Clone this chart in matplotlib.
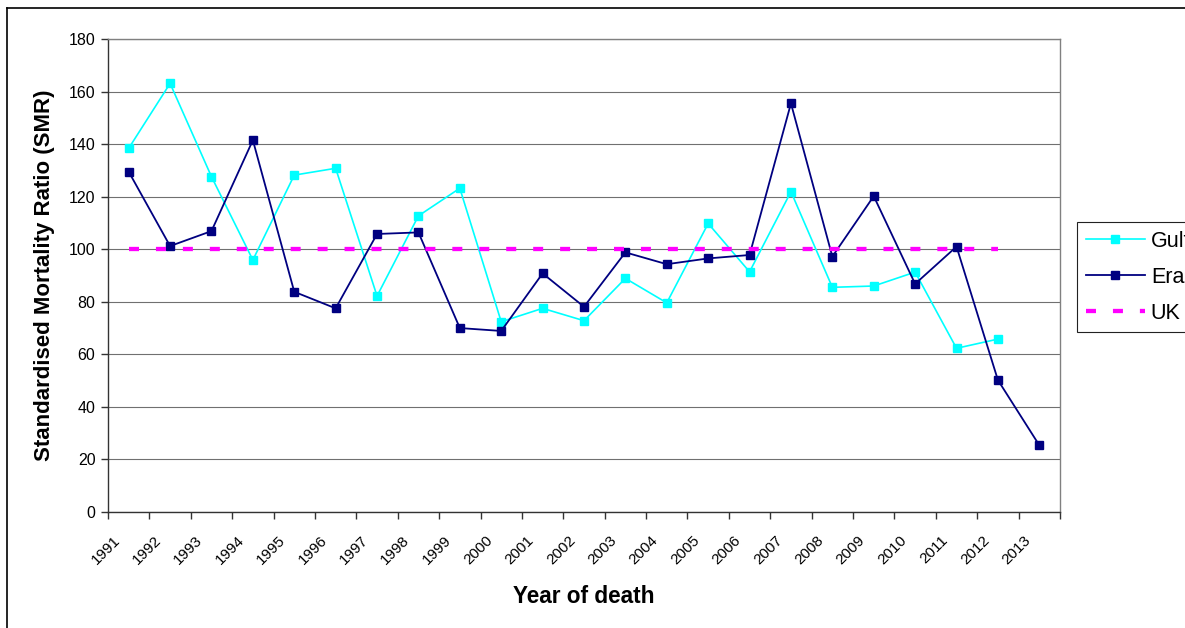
import matplotlib
matplotlib.use("Agg")
import matplotlib.pyplot as plt
import matplotlib.transforms as mtransforms
from matplotlib.lines import Line2D
import numpy as np

# data
years = [str(y) for y in range(1991, 2014)]
gulf = [138.4, 163.1, 127.6, 95.9, 128.2, 130.8, 82.2, 112.7, 123.2, 72.4,
        77.5, 72.8, 88.9, 79.6, 109.8, 91.4, 121.9, 85.5, 86.0, 91.3,
        62.3, 65.8, None]
era = [129.5, 101.2, 106.9, 141.5, 83.8, 77.5, 105.8, 106.4, 70.0, 68.9,
       90.8, 78.1, 98.8, 94.3, 96.5, 97.8, 155.5, 97.2, 120.2, 86.8,
       101.0, 50.2, 25.4]
uk = [100] * 22 + [None]
y_ticks = list(range(0, 181, 20))

plt.rcParams['font.family'] = ['Liberation Sans', 'DejaVu Sans']
plt.rcParams['lines.scale_dashes'] = False

W, H = 1185, 628
fig = plt.figure(figsize=(W / 100, H / 100), dpi=100)
ax = fig.add_axes([108 / W, 1 - 512 / H, (1060 - 108) / W, (512 - 39) / H])

x = np.arange(len(years)) + 0.5

def to_arr(vals):
    return np.array([np.nan if v is None else v for v in vals], dtype=float)

ax.plot(x, to_arr(gulf), color='#00FFFF', lw=1.2, marker='s', markersize=6,
        markeredgecolor='#00FFFF', label='Gulf', zorder=3)
ax.plot(x, to_arr(era), color='#000080', lw=1.3, marker='s', markersize=6,
        markeredgecolor='#000080', label='Era', zorder=3)
ax.plot(x, to_arr(uk), color='#FF00FF', lw=3.1, dashes=(7.2, 12.2),
        label='UK', zorder=4)

ax.set_xlim(0, len(years))
ax.set_ylim(0, 180)
ax.set_yticks(y_ticks)
ax.set_yticklabels([str(v) for v in y_ticks], fontsize=11.5)

# category boundaries as major ticks, year labels centred between them
ax.set_xticks(np.arange(len(years) + 1))
ax.set_xticklabels([])
ax.set_xticks(x, minor=True)
ax.set_xticklabels(years, minor=True, rotation=45, ha='right', fontsize=11)
ax.tick_params(axis='x', which='minor', length=0, pad=15)
ax.tick_params(axis='x', which='major', length=5, width=1, color='#333333')
ax.tick_params(axis='y', length=5, width=1, color='#333333', pad=4)
shift = mtransforms.ScaledTranslation(-6 / 100, 0, fig.dpi_scale_trans)
for lab in ax.get_xticklabels(minor=True):
    lab.set_transform(lab.get_transform() + shift)

ax.yaxis.grid(True, color='#707070', lw=0.8)
ax.set_axisbelow(True)
for side in ['left', 'bottom']:
    ax.spines[side].set_color('#333333')
    ax.spines[side].set_linewidth(1)
for side in ['top', 'right']:
    ax.spines[side].set_color('#808080')
    ax.spines[side].set_linewidth(1)

ax.set_ylabel('Standardised Mortality Ratio (SMR)', fontsize=16,
              fontweight='bold', va='center')
ax.yaxis.set_label_coords(-0.067, 0.5)
ax.set_xlabel('Year of death', fontsize=16.3, fontweight='bold', va='center')
ax.xaxis.set_label_coords(0.5, -0.178)

leg = ax.legend(loc='upper left', bbox_to_anchor=(1077 / W, 1 - 222 / H),
                bbox_transform=fig.transFigure, borderaxespad=0,
                fontsize=15.5, handlelength=2.75, handletextpad=0.28,
                labelspacing=0.7, borderpad=0.4, fancybox=False,
                framealpha=1)
leg.get_frame().set_edgecolor('#222222')
leg.get_frame().set_linewidth(0.8)

# outer chart frame
fig.add_artist(Line2D([7 / W, 7 / W], [0, 1 - 8 / H], color='black', lw=1.2,
                      transform=fig.transFigure))
fig.add_artist(Line2D([7 / W, 1], [1 - 8 / H, 1 - 8 / H], color='black', lw=1.2,
                      transform=fig.transFigure))

fig.savefig('out.png', dpi=100)
